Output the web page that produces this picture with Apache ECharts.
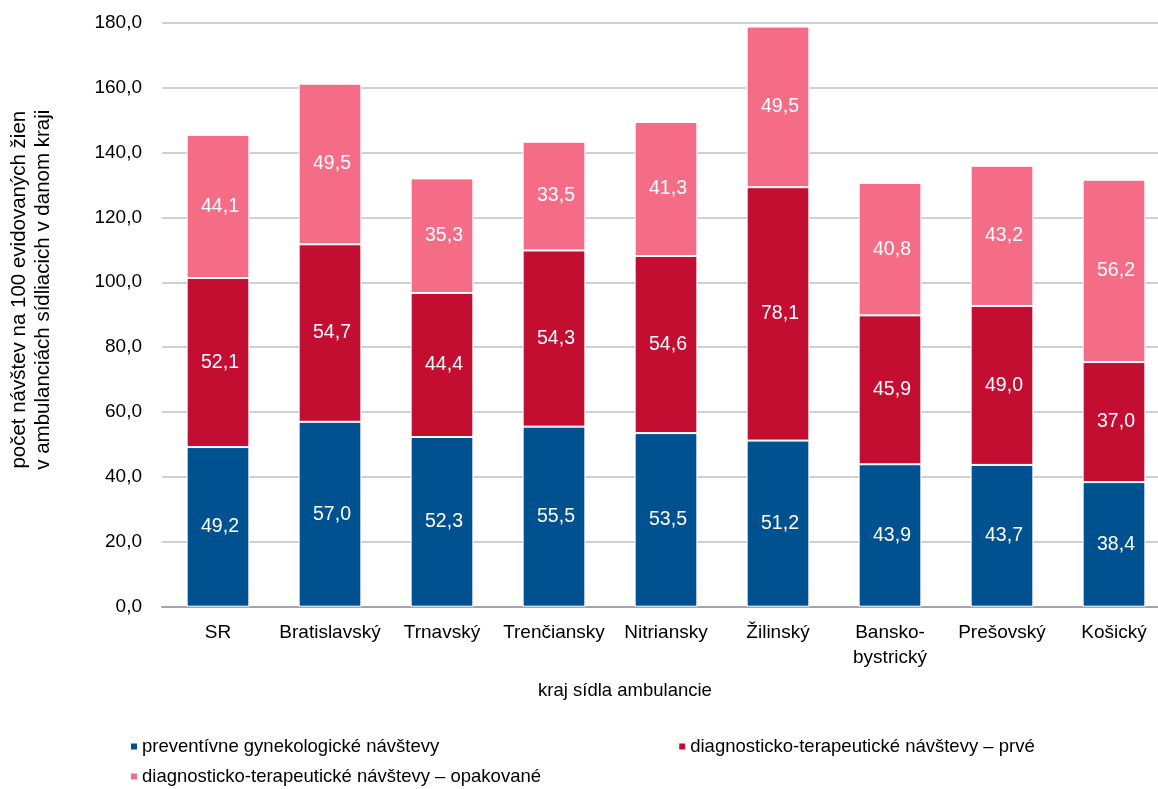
<!DOCTYPE html>
<html>
<head>
<meta charset="utf-8">
<script src="https://cdn.jsdelivr.net/npm/echarts@6/dist/echarts.min.js"></script>
<style>
  html, body { margin: 0; padding: 0; background: #fff; }
  #chart { width: 1158px; height: 789px; }
</style>
</head>
<body>
<div id="chart"></div>
<script>
// kraje
var regions = ['SR', 'Bratislavský', 'Trnavský', 'Trenčiansky', 'Nitriansky', 'Žilinský', 'Bansko-\nbystrický', 'Prešovský', 'Košický'];
// počet návštev na 100 žien
var preventive = [49.2, 57.0, 52.3, 55.5, 53.5, 51.2, 43.9, 43.7, 38.4];
var firstVisits = [52.1, 54.7, 44.4, 54.3, 54.6, 78.1, 45.9, 49.0, 37.0];
var repeatVisits = [44.1, 49.5, 35.3, 33.5, 41.3, 49.5, 40.8, 43.2, 56.2];
var seriesNames = [
    'preventívne gynekologické návštevy',
    'diagnosticko-terapeutické návštevy – prvé',
    'diagnosticko-terapeutické návštevy – opakované'
];

var font = 'Liberation Sans, Arial, sans-serif';
var fmt = function (v) { return v.toFixed(1).replace('.', ','); };

function barSeries(name, data, color) {
    return {
        name: name,
        type: 'bar',
        stack: 'all',
        barWidth: '56%',
        data: data,
        itemStyle: { color: color, borderColor: '#fff', borderWidth: 1 },
        label: {
            show: true,
            color: '#fff',
            fontFamily: font,
            fontSize: 19.5,
            offset: [2, 0],
            formatter: function (p) { return fmt(p.value); }
        }
    };
}

var chart = echarts.init(document.getElementById('chart'));
chart.setOption({
    animation: false,
    backgroundColor: '#fff',
    title: {
        text: 'kraj sídla ambulancie',
        left: 620,
        top: 676,
        textAlign: 'center',
        textStyle: { fontFamily: font, fontSize: 18.5, fontWeight: 'normal', color: '#000' }
    },
    grid: { left: 162, top: 22.7, width: 1008, height: 584, outerBoundsMode: 'none', containLabel: false },
    legend: [{
        left: 124,
        top: 732,
        icon: 'rect',
        itemWidth: 8,
        itemHeight: 8,
        itemGap: 238,
        data: [seriesNames[0], seriesNames[1]],
        textStyle: { fontFamily: font, fontSize: 18.5, color: '#000', padding: [0, 0, 0, -1] }
    }, {
        left: 124,
        top: 762,
        icon: 'rect',
        itemWidth: 8,
        itemHeight: 8,
        data: [seriesNames[2]],
        textStyle: { fontFamily: font, fontSize: 18.5, color: '#000', padding: [0, 0, 0, -1] }
    }],
    xAxis: {
        type: 'category',
        data: regions,
        axisTick: { show: false },
        axisLine: { lineStyle: { color: '#A6A6A6', width: 2 } },
        axisLabel: { interval: 0, fontFamily: font, fontSize: 19, color: '#000', margin: 14, lineHeight: 25 }
    },
    yAxis: {
        type: 'value',
        min: 0,
        max: 180,
        interval: 20,
        name: 'počet návštev na 100 evidovaných žien\nv ambulanciách sídliacich v danom kraji',
        nameLocation: 'middle',
        nameGap: 107,
        nameTextStyle: { fontFamily: font, fontSize: 20.5, color: '#000', lineHeight: 24, padding: [0, 0, 0, 50] },
        axisLabel: { fontFamily: font, fontSize: 19, color: '#000', margin: 20, formatter: fmt },
        splitLine: { lineStyle: { color: '#D0D0D0', width: 2 } }
    },
    series: [
        barSeries(seriesNames[0], preventive, '#00518F'),
        barSeries(seriesNames[1], firstVisits, '#C30D31'),
        barSeries(seriesNames[2], repeatVisits, '#F46C85')
    ]
});
</script>
</body>
</html>
